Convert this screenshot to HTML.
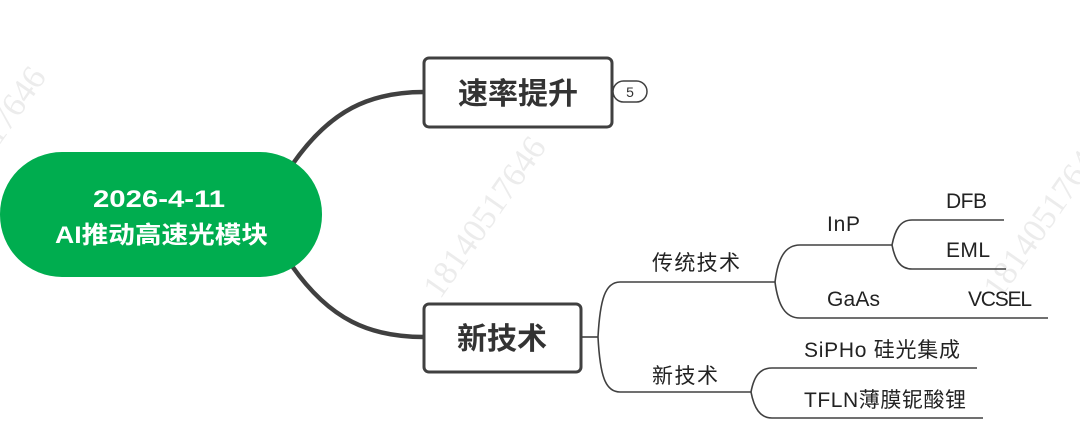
<!DOCTYPE html>
<html><head><meta charset="utf-8"><style>
html,body{margin:0;padding:0;background:#fff;}
svg{display:block;}
text{font-family:"Liberation Sans","Noto Sans CJK SC",sans-serif;}
</style></head><body>
<svg width="1080" height="440" viewBox="0 0 1080 440" xmlns="http://www.w3.org/2000/svg">
<g fill="#ececec" font-size="34">
<text transform="translate(440,300) rotate(-55)" style="font-family:'Liberation Serif',serif">18140517646</text>
<text transform="translate(1000,300) rotate(-55)" style="font-family:'Liberation Serif',serif">18140517646</text>
<text transform="translate(-60,230) rotate(-55)" style="font-family:'Liberation Serif',serif">18140517646</text>
</g>
<path d="M292,165 C330,110 370,92 424,92" fill="none" stroke="#404040" stroke-width="4.5"/>
<path d="M292,266 C330,320 370,337 424,337" fill="none" stroke="#404040" stroke-width="4.5"/>
<rect x="0" y="152" width="322" height="125" rx="62" fill="#00ad4f"/>
<text x="93" y="207" fill="#fff" font-size="24" font-weight="bold" textLength="132" lengthAdjust="spacingAndGlyphs">2026-4-11</text>
<text x="55" y="243" fill="#fff" font-size="24" font-weight="bold" textLength="213" lengthAdjust="spacingAndGlyphs">AI推动高速光模块</text>
<rect x="424" y="58" width="188" height="69" rx="5" fill="#fff" stroke="#404040" stroke-width="3"/>
<text x="518" y="104" fill="#333" font-size="30" font-weight="bold" text-anchor="middle">速率提升</text>
<rect x="613" y="81" width="34" height="21" rx="10.5" fill="#fff" stroke="#404040" stroke-width="1.5"/>
<text x="630" y="97" fill="#333" font-size="14" text-anchor="middle">5</text>
<rect x="424" y="304" width="157" height="68" rx="5" fill="#fff" stroke="#404040" stroke-width="3"/>
<text x="502" y="349" fill="#333" font-size="30" font-weight="bold" text-anchor="middle">新技术</text>
<g fill="none" stroke="#404040" stroke-width="1.6">
<path d="M582,337 L598,337"/>
<path d="M598,337 C600,300 605,282 620,282 L775,282"/>
<path d="M598,337 C600,375 605,392 620,392 L751,392"/>
<path d="M775,282 C778,258 785,245 800,245 L892,245"/>
<path d="M775,282 C778,305 785,318 800,318 L1048,318"/>
<path d="M892,245 C895,230 900,220 912,220 L1004,220"/>
<path d="M892,245 C895,260 900,269 912,269 L1006,269"/>
<path d="M751,392 C754,376 760,368 772,368 L977,368"/>
<path d="M751,392 C754,408 760,418 772,418 L983,418"/>
</g>
<g fill="#222" font-size="21" lengthAdjust="spacingAndGlyphs">
<text x="652" y="270" textLength="88">传统技术</text>
<text x="652" y="383" textLength="66">新技术</text>
<text x="827" y="231" textLength="33">InP</text>
<text x="827" y="306" textLength="53">GaAs</text>
<text x="968" y="306" textLength="64">VCSEL</text>
<text x="946" y="208" textLength="41">DFB</text>
<text x="946" y="257" textLength="44">EML</text>
<text x="804" y="357" textLength="156">SiPHo 硅光集成</text>
<text x="804" y="407" textLength="162">TFLN薄膜铌酸锂</text>
</g>
</svg>
</body></html>
